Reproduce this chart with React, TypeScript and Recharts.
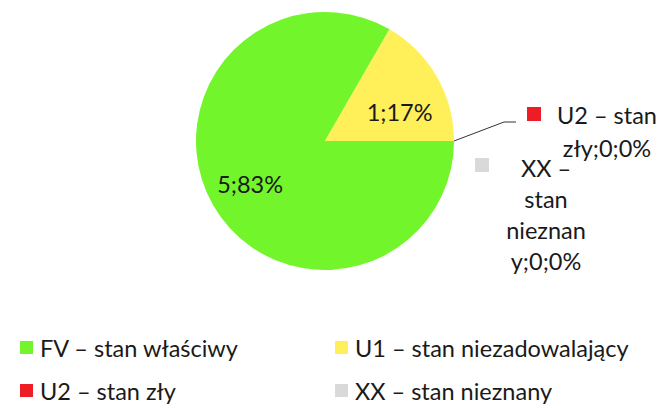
import React from 'react';
import { PieChart, Pie, Cell, Legend } from 'recharts';

const categories = ['FV – stan właściwy', 'U1 – stan niezadowalający', 'U2 – stan zły', 'XX – stan nieznany'];
const values = [5, 1, 0, 0];
const colors = ['#73F52B', '#FFF05A', '#EE1C24', '#D9D9D9'];
// wrapped text of the labels for the empty slices, as Excel broke them
const zeroLabelLines: Record<string, string[]> = {
  'U2 – stan zły': ['U2 – stan', 'zły;0;0%'],
  'XX – stan nieznany': ['XX –', 'stan', 'nieznan', 'y;0;0%'],
};

const total = values.reduce((a, b) => a + b, 0);
const data = categories.map((name, i) => ({ name, value: values[i], color: colors[i] }));

const FONT = 'Lato, "Open Sans", sans-serif';
const FS = 23.5;
const RAD = Math.PI / 180;

const renderLabel = (props: any) => {
  const { cx, cy, midAngle, outerRadius, index, value, name } = props;
  const pct = Math.round((value / total) * 100);
  if (value > 0) {
    const r = outerRadius * (index === 0 ? 0.67 : 0.62);
    const a = index === 0 ? midAngle : midAngle - 9;
    const x = cx + r * Math.cos(-a * RAD);
    const y = cy + r * Math.sin(-a * RAD);
    return (
      <text x={x} y={y} textAnchor="middle" dominantBaseline="central" fill="#1a1a1a" fontSize={FS} fontFamily={FONT}>
        {`${value};${pct}%`}
      </text>
    );
  }
  const lines = zeroLabelLines[name] || [`${name};${value};${pct}%`];
  const ex = cx + outerRadius * Math.cos(-midAngle * RAD);
  const ey = cy + outerRadius * Math.sin(-midAngle * RAD);
  if (index === 2) {
    const tx = ex + 153;
    return (
      <g>
        <polyline points={`${ex},${ey} ${ex + 50},${ey - 19} ${ex + 62},${ey - 19}`} fill="none" stroke="#333" strokeWidth={1} />
        <rect x={ex + 73} y={ey - 34} width={14} height={14} fill={colors[index]} />
        {lines.map((l, k) => (
          <text key={k} x={tx} y={ey - 26 + k * 33} textAnchor="middle" dominantBaseline="central" fill="#1a1a1a" fontSize={FS} fontFamily={FONT}>
            {l}
          </text>
        ))}
      </g>
    );
  }
  const tx = ex + 92;
  return (
    <g>
      <rect x={ex + 21} y={ey + 17} width={14} height={14} fill={colors[index]} />
      {lines.map((l, k) => (
        <text key={k} x={tx} y={ey + 27 + k * 31} textAnchor="middle" dominantBaseline="central" fill="#1a1a1a" fontSize={FS} fontFamily={FONT}>
          {l}
        </text>
      ))}
    </g>
  );
};

const renderLegend = () => (
  <div style={{ display: 'grid', gridTemplateColumns: '315px 300px', rowGap: 20, fontFamily: FONT, fontSize: FS, color: '#1a1a1a' }}>
    {data.map((d) => (
      <div key={d.name} style={{ display: 'flex', alignItems: 'center', height: 23, whiteSpace: 'nowrap' }}>
        <span style={{ width: 13, height: 13, background: d.color, display: 'inline-block', marginRight: 7, flexShrink: 0 }} />
        {d.name}
      </div>
    ))}
  </div>
);

export default function App() {
  return (
    <div style={{ position: 'absolute', left: 0, top: 0, background: '#fff' }}>
      <PieChart width={659} height={408} margin={{ top: 0, right: 0, bottom: 0, left: 0 }}>
        <Pie
          data={data}
          dataKey="value"
          nameKey="name"
          cx={325}
          cy={141}
          outerRadius={129}
          startAngle={0}
          endAngle={-360}
          stroke="none"
          label={renderLabel}
          labelLine={false}
          isAnimationActive={false}
        >
          {data.map((d) => (
            <Cell key={d.name} fill={d.color} />
          ))}
        </Pie>
        <Legend
          content={renderLegend}
          wrapperStyle={{ position: 'absolute', left: 20, top: 336, width: 640 }}
        />
      </PieChart>
    </div>
  );
}
